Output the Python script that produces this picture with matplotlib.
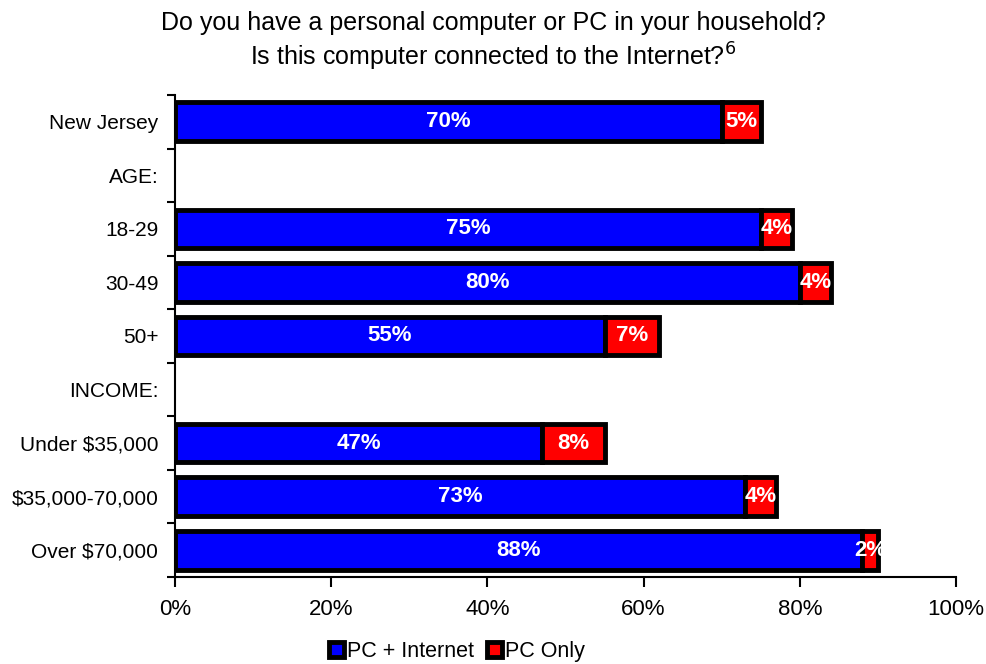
import numpy as np
import matplotlib.pyplot as plt
from matplotlib.patches import Patch

plt.rcParams['font.family'] = ['Liberation Sans', 'DejaVu Sans']

categories = ["New Jersey", "AGE:", "18-29", "30-49", "50+", "INCOME:",
              "Under $35,000", "$35,000-70,000", "Over $70,000"]
pc_internet = [70, None, 75, 80, 55, None, 47, 73, 88]
pc_only = [5, None, 4, 4, 7, None, 8, 4, 2]
x_ticks = [0, 20, 40, 60, 80, 100]

fig = plt.figure(figsize=(9.87, 6.64), dpi=100)
ax = fig.add_axes([0.1773, 0.131, 0.7913, 0.726])

y = np.arange(len(categories))
h = 0.72
for i, (a, b) in enumerate(zip(pc_internet, pc_only)):
    if a is None:
        continue
    ax.barh(i, a, height=h, color='#0000ff', edgecolor='black', linewidth=3.5)
    ax.barh(i, b, left=a, height=h, color='#ff0000', edgecolor='black', linewidth=3.5)
    ax.text(a / 2, i, f"{a}%", ha='center', va='center', color='white',
            fontsize=16, fontweight='bold')
    ax.text(a + b / 2, i, f"{b}%", ha='center', va='center', color='white',
            fontsize=16, fontweight='bold')

ax.set_xlim(0, 100)
ax.set_ylim(len(categories) - 0.5, -0.5)
ax.set_xticks(x_ticks)
ax.set_xticklabels([f"{t}%" for t in x_ticks], fontsize=16)
ax.tick_params(axis='x', length=7, width=1.5, pad=9)

# category names without ticks, ticks at the boundaries between rows
ax.set_yticks(y)
ax.set_yticklabels(categories, fontsize=15)
ax.tick_params(axis='y', which='major', length=0, pad=12)
ax.set_yticks(np.arange(len(categories) + 1) - 0.5, minor=True)
ax.tick_params(axis='y', which='minor', length=6, width=1.5)

for s in ['top', 'right']:
    ax.spines[s].set_visible(False)
ax.spines['left'].set_linewidth(1.5)
ax.spines['bottom'].set_linewidth(1.5)

fig.text(0.5, 0.965, "Do you have a personal computer or PC in your household?",
         ha='center', va='center', fontsize=18)
fig.text(0.5, 0.914, r"Is this computer connected to the Internet?$^{6}$",
         ha='center', va='center', fontsize=18)

handles = [Patch(facecolor='#0000ff', edgecolor='black', linewidth=3.5),
           Patch(facecolor='#ff0000', edgecolor='black', linewidth=3.5)]
fig.legend(handles, ["PC + Internet", "PC Only"], loc='center',
           bbox_to_anchor=(0.463, 0.019), ncol=2, frameon=False, fontsize=15.5,
           handlelength=0.7, handleheight=0.7, handletextpad=0.15,
           columnspacing=0.6)

fig.savefig("out.png", dpi=100)
